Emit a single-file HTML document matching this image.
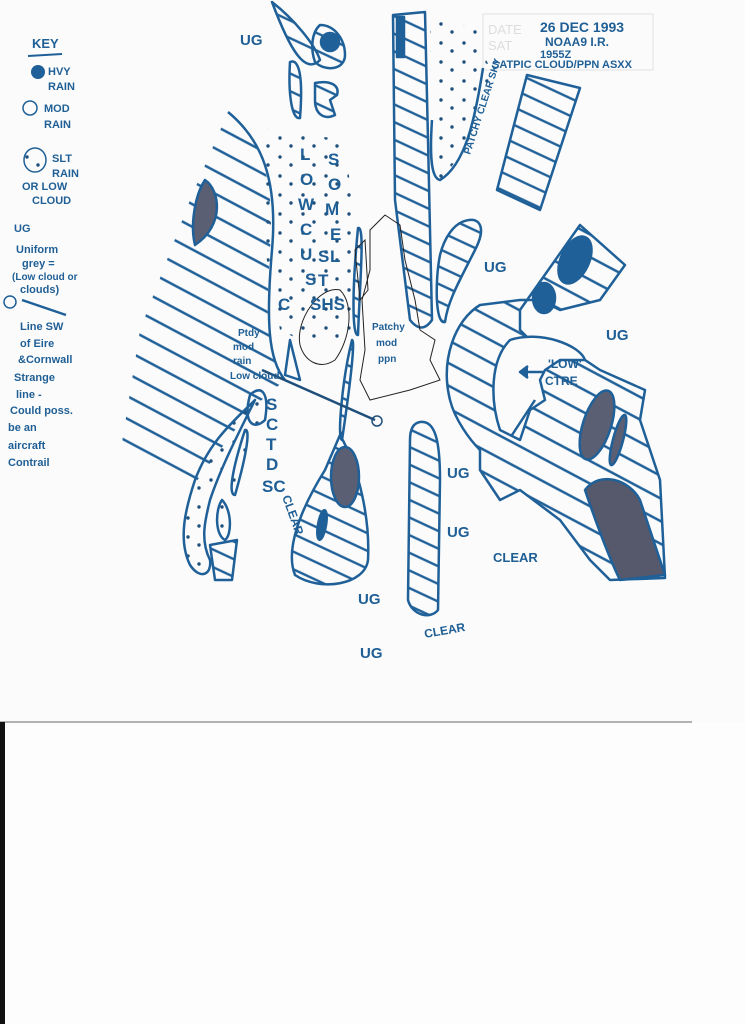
<!DOCTYPE html>
<html><head><meta charset="utf-8"><style>
html,body{margin:0;padding:0;background:#fdfdfd;}
svg{display:block}
text{font-family:"Liberation Sans",sans-serif;fill:#1f5f95;font-weight:bold;}
</style></head><body>
<svg width="745" height="1024" viewBox="0 0 745 1024" xmlns="http://www.w3.org/2000/svg">
<defs>
<pattern id="h" width="20" height="20" patternUnits="userSpaceOnUse" patternTransform="rotate(28)">
<line x1="0" y1="10" x2="20" y2="10" stroke="#1f6098" stroke-width="2.4"/></pattern>
<pattern id="hs" width="16" height="16" patternUnits="userSpaceOnUse" patternTransform="rotate(25)">
<line x1="0" y1="8" x2="16" y2="8" stroke="#1f6098" stroke-width="2.4"/></pattern>
<pattern id="dt" width="23" height="19" patternUnits="userSpaceOnUse">
<circle cx="4" cy="5" r="1.7" fill="#1f4f7a"/><circle cx="15" cy="13" r="1.7" fill="#1f4f7a"/></pattern>
</defs>
<rect width="745" height="1024" fill="#fdfdfd"/>
<rect x="0" y="0" width="745" height="722" fill="#fbfbfb"/>
<line x1="0" y1="722" x2="692" y2="722" stroke="#999" stroke-width="1.5"/>
<rect x="0" y="722" width="5" height="302" fill="#111"/>
<rect x="483" y="14" width="170" height="56" fill="none" stroke="#e2e2e2"/>
<text x="488" y="34" font-size="13" style="fill:#ddd;font-weight:normal">DATE</text>
<text x="488" y="50" font-size="13" style="fill:#ddd;font-weight:normal">SAT</text>

<g stroke="#1f6098" stroke-width="2.5" fill="none" stroke-linejoin="round">
<path d="M228,112 C262,140 275,180 270,250 C265,330 268,360 285,380 L250,410 L190,490 L120,455 L140,330 L190,200 Z" fill="url(#h)" stroke="none"/>
<path d="M228,112 C262,140 278,180 272,250 C266,320 268,360 285,380"/>
<path d="M205,180 C220,190 225,225 195,245 C190,225 195,195 205,180Z" fill="#5a5f73" stroke="#1f6098"/>
<path d="M262,128 L345,140 L355,230 L350,340 L300,340 L280,330 L265,250 Z" fill="url(#dt)" stroke="none"/>
<path d="M272,2 C295,20 315,45 320,60 C305,75 290,50 272,2Z" fill="url(#hs)"/>
<path d="M320,25 C335,25 345,40 345,55 C345,70 325,72 315,62 C310,48 312,32 320,25Z" fill="url(#hs)"/>
<circle cx="330" cy="42" r="9" fill="#1f6098"/>
<path d="M290,62 C300,58 303,80 300,118 C292,120 288,95 290,62Z" fill="url(#hs)"/>
<path d="M315,83 C330,80 340,85 337,95 L330,100 L335,115 C325,120 315,115 315,100 Z" fill="url(#hs)"/>
<path d="M393,15 L425,12 L428,140 L432,320 C425,330 418,330 410,320 L395,200 Z" fill="url(#hs)"/>
<rect x="397" y="17" width="7" height="40" fill="#1f6098"/>
<path d="M430,20 L478,28 L483,55 L492,70 C478,110 470,150 440,180 C430,175 432,120 430,20Z" fill="url(#dt)" stroke="none"/>
<path d="M483,68 C475,120 465,165 440,180 C430,178 430,150 432,120"/>
<path d="M527,75 L580,88 L540,210 L497,190 Z" fill="url(#hs)"/>
<path d="M462,222 C478,215 488,225 475,250 C460,280 448,300 445,322 C435,325 435,280 440,255 C445,235 455,225 462,222Z" fill="url(#hs)"/>
<path d="M580,225 L625,265 L600,300 L560,310 L540,300 L520,300 L480,305 C455,320 440,360 450,400 C455,420 470,440 480,450 L480,470 L500,500 L520,490 L560,520 L590,560 L610,580 L665,578 L660,480 L640,420 L645,390 L600,370 L570,350 L540,350 L520,330 L520,310 Z" fill="url(#h)"/>
<path d="M510,340 C540,330 580,345 585,360 L560,360 L545,370 L540,380 L545,400 L530,410 L520,440 L500,430 C490,400 490,360 510,340Z" fill="#fbfbfb"/>
<ellipse cx="575" cy="260" rx="14" ry="25" fill="#1f6098" transform="rotate(25 575 260)"/>
<ellipse cx="544" cy="298" rx="11" ry="15" fill="#1f6098"/>
<ellipse cx="597" cy="425" rx="14" ry="36" fill="#5a5f73" transform="rotate(18 597 425)"/>
<ellipse cx="618" cy="440" rx="5" ry="26" fill="#5a5f73" transform="rotate(15 618 440)"/>
<path d="M585,490 C600,470 630,480 640,500 L665,575 L620,580 C610,560 595,520 585,490Z" fill="#55596b"/>
<line x1="545" y1="372" x2="528" y2="372"/><path d="M528,366 L520,372 L528,378" fill="#1f6098"/>
<line x1="535" y1="400" x2="512" y2="435"/>
<!-- left small shapes -->
<path d="M255,400 C235,420 210,440 195,480 C185,510 178,540 190,565 C200,580 212,575 210,560 C200,540 205,520 210,500 C220,470 235,440 255,400Z" fill="url(#dt)"/>
<path d="M250,395 C260,385 270,390 265,420 C255,430 242,425 250,395Z" fill="url(#dt)"/>
<path d="M245,430 C250,428 248,450 235,495 C228,495 232,470 245,430Z" fill="url(#dt)"/>
<path d="M222,500 C232,510 232,535 225,540 C215,535 215,510 222,500Z" fill="url(#dt)"/>
<path d="M210,545 L237,540 L232,580 L215,580 Z" fill="url(#hs)"/>
<path d="M340,435 C360,470 370,520 368,560 C365,585 320,592 295,575 C285,550 300,510 325,470 Z" fill="url(#hs)"/>
<ellipse cx="345" cy="477" rx="14" ry="30" fill="#5a5f73"/>
<ellipse cx="322" cy="525" rx="4" ry="15" fill="#1f6098" transform="rotate(10 322 525)"/>
<path d="M358,228 C365,225 360,280 358,335 C352,336 352,290 358,228Z" fill="url(#hs)"/>
<path d="M352,340 C356,340 348,400 342,440 C337,440 342,380 352,340Z" fill="url(#hs)"/>
<path d="M420,422 C435,420 440,440 440,480 L438,610 C430,620 412,615 408,600 L410,440 C410,428 414,423 420,422Z" fill="url(#hs)"/>
<path d="M290,340 L285,375 L300,380 Z"/>
</g>
<g stroke="#222" stroke-width="1" fill="none">
<path d="M340,290 C355,305 350,340 335,360 C320,370 305,362 300,345 C295,320 320,285 340,290Z"/>
<path d="M370,230 L385,215 L400,225 L405,260 L415,300 L420,330 L435,340 L430,360 L440,380 L410,390 L370,400 L360,380 L365,350 L362,300 L370,270 Z"/>
<path d="M355,250 L365,240 L368,290 L360,300 Z"/>
</g>
<line x1="262" y1="370" x2="375" y2="420" stroke="#1f4f7a" stroke-width="2.5"/>
<circle cx="377" cy="421" r="5" fill="none" stroke="#1f4f7a" stroke-width="1.5"/>

<g font-size="15">
<text x="240" y="45">UG</text>
<text x="484" y="272">UG</text>
<text x="606" y="340">UG</text>
<text x="447" y="478">UG</text>
<text x="447" y="537">UG</text>
<text x="358" y="604">UG</text>
<text x="360" y="658">UG</text>
<text x="493" y="562" font-size="13">CLEAR</text>
<text x="425" y="638" font-size="12" transform="rotate(-10 425 638)">CLEAR</text>
<text x="548" y="368" font-size="12">'LOW'</text>
<text x="545" y="385" font-size="12">CTRE</text>
<text x="540" y="32" font-size="14">26 DEC 1993</text>
<text x="545" y="46" font-size="12">NOAA9 I.R.</text>
<text x="540" y="58" font-size="11">1955Z</text>
<text x="492" y="68" font-size="11">SATPIC CLOUD/PPN ASXX</text>
<text x="470" y="155" font-size="10" transform="rotate(-72 470 155)">PATCHY CLEAR SKY</text>
</g>
<g font-size="17">
<text x="300" y="160">L</text><text x="300" y="185">O</text><text x="298" y="210">W</text><text x="300" y="235">C</text><text x="300" y="260">U</text><text x="305" y="285">S</text><text x="278" y="310">C</text>
<text x="328" y="165">S</text><text x="328" y="190">O</text><text x="325" y="215">M</text><text x="330" y="240">E</text><text x="318" y="262">S</text><text x="330" y="262">L</text><text x="318" y="286">T</text><text x="310" y="310">SHS</text>
<text x="266" y="410">S</text><text x="266" y="430">C</text><text x="266" y="450">T</text><text x="266" y="470">D</text><text x="262" y="492">SC</text>
</g>
<g font-size="12">
<text x="282" y="497" transform="rotate(70 282 497)">CLEAR</text>
<text x="238" y="336" font-size="10">Ptdy</text><text x="233" y="350" font-size="10">mod</text>
<text x="233" y="364" font-size="10">rain</text><text x="230" y="379" font-size="10">Low cloud</text>
<text x="372" y="330" font-size="10">Patchy</text><text x="376" y="346" font-size="10">mod</text><text x="378" y="362" font-size="10">ppn</text>
</g>
<g font-size="11">
<text x="32" y="48" font-size="13">KEY</text>
<line x1="28" y1="56" x2="62" y2="54" stroke="#1f6098" stroke-width="2"/>
<circle cx="38" cy="72" r="7" fill="#1f6098"/>
<text x="48" y="75">HVY</text><text x="48" y="90">RAIN</text>
<circle cx="30" cy="108" r="7" fill="none" stroke="#1f6098" stroke-width="1.5"/>
<text x="44" y="112">MOD</text><text x="44" y="128">RAIN</text>
<ellipse cx="35" cy="160" rx="11" ry="12" fill="url(#dt)" stroke="#1f6098" stroke-width="1.5"/>
<text x="52" y="162">SLT</text><text x="52" y="177">RAIN</text>
<text x="22" y="190">OR LOW</text><text x="32" y="204">CLOUD</text>
<text x="14" y="232">UG</text>
<text x="16" y="253">Uniform</text><text x="22" y="267">grey =</text>
<text x="12" y="280" font-size="10">(Low cloud or</text><text x="20" y="293">clouds)</text>
<circle cx="10" cy="302" r="6" fill="none" stroke="#1f6098" stroke-width="1.5"/>
<line x1="22" y1="300" x2="66" y2="315" stroke="#1f6098" stroke-width="2.5"/>
<text x="20" y="330">Line SW</text><text x="20" y="347">of Eire</text>
<text x="18" y="363">&amp;Cornwall</text>
<text x="14" y="381">Strange</text><text x="16" y="398">line -</text>
<text x="10" y="414">Could poss.</text><text x="8" y="431">be an</text>
<text x="8" y="449">aircraft</text><text x="8" y="466">Contrail</text>
</g>
</svg>
</body></html>
